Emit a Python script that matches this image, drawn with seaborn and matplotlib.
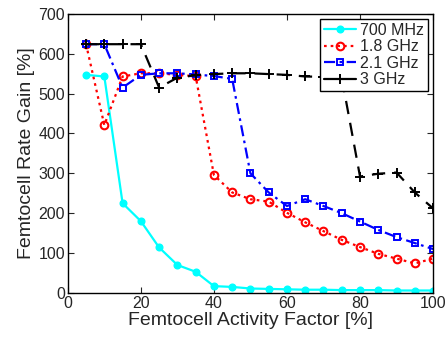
import numpy as np
import pandas as pd
import matplotlib
matplotlib.use("Agg")
import matplotlib.pyplot as plt
import seaborn as sns

# Data
activity = [5, 10, 15, 20, 25, 30, 35, 40, 45, 50, 55, 60, 65, 70, 75, 80, 85, 90, 95, 100]
gain_700mhz = [547, 543, 225, 180, 114, 70, 53, 17, 15, 11, 10, 9, 8, 8, 7, 7, 7, 6, 6, 6]
gain_1_8ghz = [624, 421, 543, 551, 551, 547, 544, 296, 252, 235, 229, 201, 177, 155, 133, 115, 98, 86, 74, 86]
gain_2_1ghz = [624, 624, 515, 547, 551, 551, 548, 544, 537, 300, 252, 218, 235, 218, 200, 179, 158, 140, 125, 110]
gain_3ghz = [624, 624, 624, 624, 515, 540, 546, 549, 551, 551, 549, 547, 543, 542, 540, 292, 299, 302, 252, 212]
series_names = ["700 MHz", "1.8 GHz", "2.1 GHz", "3 GHz"]

df = pd.DataFrame({
    "activity": activity * 4,
    "gain": gain_700mhz + gain_1_8ghz + gain_2_1ghz + gain_3ghz,
    "band": np.repeat(series_names, len(activity)),
})

sns.set_style("ticks")
plt.rcParams["font.family"] = ["Liberation Sans", "DejaVu Sans"]
plt.rcParams["xtick.direction"] = "in"
plt.rcParams["ytick.direction"] = "in"

fig = plt.figure(figsize=(4.46, 3.39), dpi=100)
ax = fig.add_axes([0.152, 0.136, 0.819, 0.823])

styles = {
    "700 MHz": dict(color="#00ffff", linestyle="-", marker="o", mfc="#00ffff", ms=4.8, mew=1.0),
    "1.8 GHz": dict(color="red", linestyle=(0, (1.2, 1.8)), marker="o", mfc="none", ms=5.5, mew=1.5),
    "2.1 GHz": dict(color="blue", linestyle=(0, (5, 2, 1.2, 2)), marker="s", mfc="none", ms=4.6, mew=1.4),
    "3 GHz": dict(color="black", linestyle=(0, (6, 4)), marker="+", mfc="black", ms=6.5, mew=1.4),
}

for name in series_names:
    sub = df[df["band"] == name]
    st = styles[name]
    sns.lineplot(data=sub, x="activity", y="gain", ax=ax, label=name,
                 color=st["color"], linestyle=st["linestyle"], marker=st["marker"],
                 markerfacecolor=st["mfc"], markeredgecolor=st["color"],
                 markersize=st["ms"], markeredgewidth=st["mew"],
                 linewidth=1.6)

ax.set_xlim(0, 100)
ax.set_ylim(0, 700)
ax.set_xticks([0, 20, 40, 60, 80, 100])
ax.set_yticks(range(0, 701, 100))
ax.tick_params(axis="both", labelsize=11.5, length=4, width=0.8,
               top=True, right=True, pad=2)
for s in ax.spines.values():
    s.set_visible(True)
    s.set_linewidth(1.0)
    s.set_color("black")

ax.set_xlabel("Femtocell Activity Factor [%]", fontsize=14, labelpad=1)
ax.set_ylabel("Femtocell Rate Gain [%]", fontsize=14, labelpad=2)

leg = ax.legend(loc="upper right", bbox_to_anchor=(1.0, 1.0), borderaxespad=0.3,
                fontsize=11.5, frameon=True, fancybox=False, handlelength=2.0,
                handletextpad=0.25, labelspacing=0.1, borderpad=0.25)
leg.get_frame().set_edgecolor("black")
leg.get_frame().set_linewidth(1.0)
leg.get_frame().set_alpha(1.0)
leg.get_lines()[3].set_linestyle("-")

fig.savefig("out.png", dpi=100)
